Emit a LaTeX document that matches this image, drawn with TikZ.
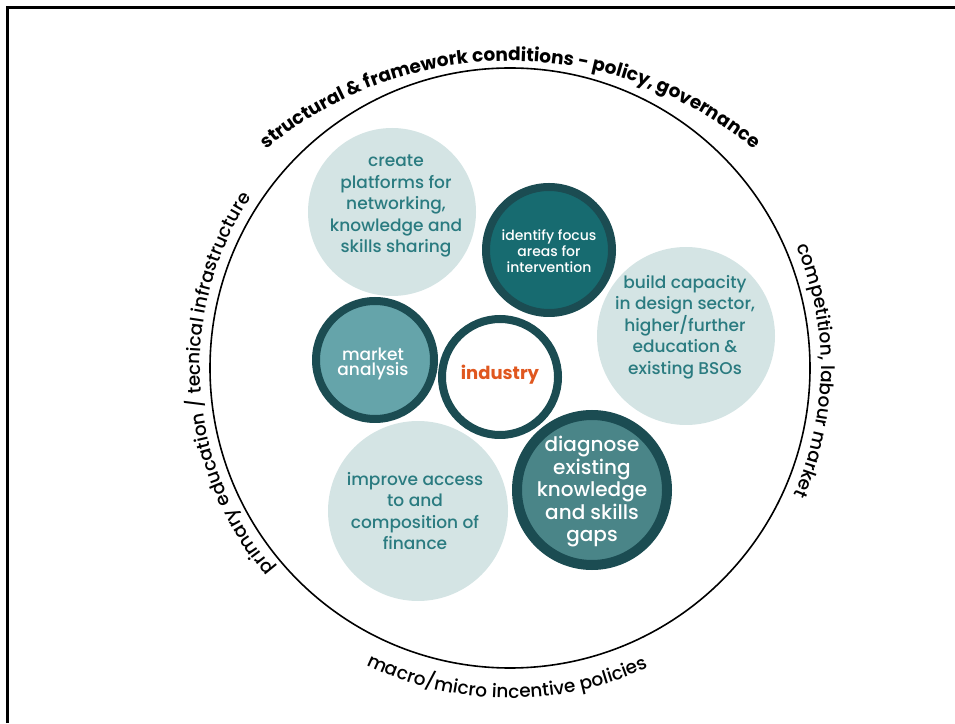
\documentclass[tikz,border=0pt]{standalone}
\usepackage{fontspec}
\setmainfont{Poppins}
\IfFontExistsTF{Poppins Medium}{\newfontfamily\medfont{Poppins Medium}}{\newfontfamily\medfont{Poppins}}
\usetikzlibrary{decorations.text}
\definecolor{lightc}{HTML}{D4E4E4}
\definecolor{tealtxt}{HTML}{2A7B80}
\definecolor{ringc}{HTML}{1B4C52}
\definecolor{identc}{HTML}{176B70}
\definecolor{marketc}{HTML}{65A4AA}
\definecolor{diagc}{HTML}{4A8588}
\definecolor{orangec}{HTML}{E0571F}
\begin{document}
\begin{tikzpicture}[x=1pt,y=1pt,
  light/.style={circle, fill=lightc, draw=none, inner sep=0pt},
  darkc/.style={circle, draw=ringc, inner sep=0pt},
  lighttxt/.style={align=center, text=tealtxt, inner sep=0pt, font=\medfont\fontsize{17}{21.5}\selectfont},
  whitetxt/.style={align=center, text=white, inner sep=0pt},
  outertext/.style={decorate, decoration={text along path, text align=center, text={#1}}}
]
\useasboundingbox (0,0) rectangle (955,723);
% frame
\coordinate (fbl) at (7,0);
\coordinate (ftl) at (7,715);
\coordinate (ftr) at (955,715);
\draw[line width=3pt] (fbl) -- (ftl) -- (ftr);

% outer ring
\node[circle, draw=black, line width=1.6pt, minimum size=600, inner sep=0pt] (outer) at (510,355) {};
\coordinate (topc) at (510,282);

% light circles
\node[light, minimum size=168] (create) at (392,511) {};
\node[light, minimum size=178] (build) at (686,387) {};
\node[light, minimum size=180] (improve) at (418,212) {};

% dark circles
\node[darkc, fill=identc, line width=8pt, minimum size=126] (identify) at (549,473) {};
\node[darkc, fill=marketc, line width=8pt, minimum size=118] (market) at (375,363) {};
\node[darkc, fill=diagc, line width=10pt, minimum size=150] (diagnose) at (592,233) {};
\node[darkc, fill=white, line width=8pt, minimum size=116] (industry) at (500,346) {};

% texts
\node[lighttxt] (createtxt) at (396,517) {create\\platforms for\\networking,\\knowledge and\\skills sharing};
\node[lighttxt] (buildtxt) at (685,396) {build capacity\\in design sector,\\higher/further\\education \&\\existing BSOs};
\node[lighttxt] (improvetxt) at (415,212) {improve access\\to and\\composition of\\finance};
\node[whitetxt, font=\medfont\fontsize{14}{16}\selectfont] (identifytxt) at (549,472) {identify focus\\areas for\\intervention};
\node[whitetxt, font=\medfont\fontsize{17}{15}\selectfont] (markettxt) at (373,359) {market\\analysis};
\node[whitetxt, font=\medfont\fontsize{20}{22.5}\selectfont] (diagnosetxt) at (592,231) {diagnose\\existing\\knowledge\\and skills\\gaps};
\node[text=orangec, inner sep=0pt, font=\fontsize{18}{18}\selectfont\bfseries] (industrytxt) at (500,348) {industry};

% curved outer labels
\path[outertext={|\fontsize{18.5}{18.5}\selectfont\bfseries|structural {\&} framework conditions - policy, governance}]
  (topc) ++(145:380) arc[start angle=145, end angle=35, radius=380];
\path[outertext={|\medfont\fontsize{18.5}{18.5}\selectfont|primary education / tecnical infrastructure}]
  (outer.center) ++(241.5:310) arc[start angle=241.5, end angle=125.5, radius=310];
\path[outertext={|\medfont\fontsize{18.5}{18.5}\selectfont|competition, labour market}]
  (outer.center) ++(50:311) arc[start angle=50, end angle=-51, radius=311];
\path[outertext={|\medfont\fontsize{18.5}{18.5}\selectfont|macro/micro incentive policies}]
  (outer.center) ++(220:330) arc[start angle=220, end angle=319, radius=330];
\end{tikzpicture}
\end{document}
